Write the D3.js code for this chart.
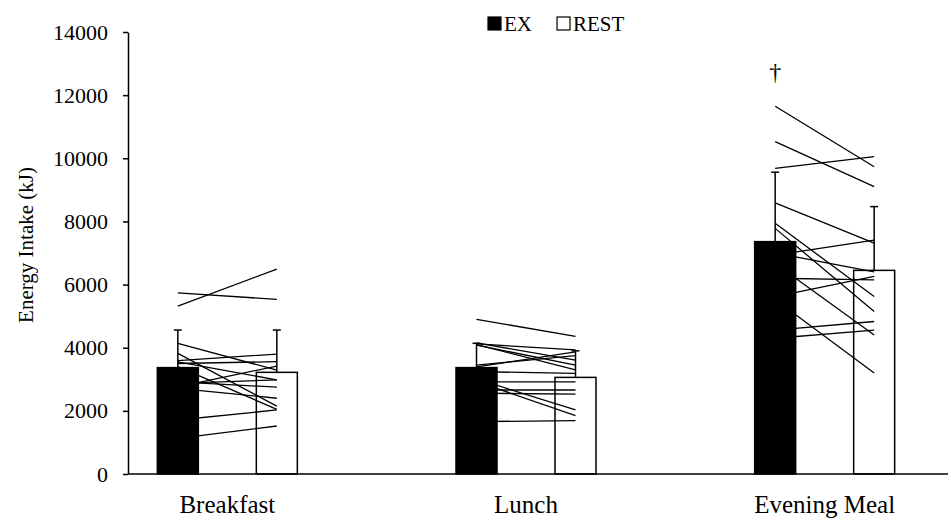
<!DOCTYPE html>
<html>
<head>
<meta charset="utf-8">
<script src="https://cdn.jsdelivr.net/npm/d3@7"></script>
<style>
  html, body { margin: 0; padding: 0; background: #fff; }
  svg { display: block; font-family: "Liberation Serif", "Times New Roman", serif; }
</style>
</head>
<body>
<script>
// Meal categories and group summaries (mean and SD, kJ)
const meals = ["Breakfast", "Lunch", "Evening Meal"];
const series = ["EX", "REST"];
const exMean = [3370, 3370, 7360];
const restMean = [3220, 3060, 6450];
const exSD = [1190, 770, 2200];
const restSD = [1340, 840, 2020];

// Individual participant intakes, paired EX -> REST
const breakfastEX   = [5740, 5320, 4140, 3820, 3590, 3500, 3550, 2870, 2920, 2710, 3400, 1710, 1130, 2760];
const breakfastREST = [5530, 6490, 3290, 2150, 3800, 3560, 2980, 2980, 2750, 2400, 2050, 2030, 1520, 3420];
const lunchEX       = [4900, 4150, 4080, 4120, 3390, 3450, 3240, 2920, 2660, 2560, 3010, 2930, 1660, 4100];
const lunchREST     = [4360, 3610, 3450, 3930, 3870, 3750, 3190, 2920, 2660, 2530, 2030, 1850, 1690, 3300];
const eveningEX     = [11650, 10530, 9680, 8590, 7940, 7780, 6930, 7000, 6200, 5620, 6670, 5530, 4560, 4300];
const eveningREST   = [9730, 9100, 10050, 7310, 5620, 5150, 7410, 6400, 6150, 6260, 4400, 3200, 4830, 4560];

const yTicks = [0, 2000, 4000, 6000, 8000, 10000, 12000, 14000];
const significance = ["", "", "\u2020"];

const individualEX = [breakfastEX, lunchEX, eveningEX];
const individualREST = [breakfastREST, lunchREST, eveningREST];

const W = 949, H = 519;
const svg = d3.select("body").append("svg").attr("width", W).attr("height", H);

const y = d3.scaleLinear().domain([0, 14000]).range([474, 32]);
const x = d3.scaleBand().domain(meals).range([78, 974]);
const offset = d3.scalePoint().domain(series).range([-49.5, 49.5]);
const barW = 41;
const cx = (meal, s) => x(meal) + x.bandwidth() / 2 + offset(s);

const fill = { EX: "#000", REST: "#fff" };

const bars = meals.flatMap((m, i) => [
  { meal: m, s: "EX", mean: exMean[i], sd: exSD[i] },
  { meal: m, s: "REST", mean: restMean[i], sd: restSD[i] }
]);

// bars
svg.append("g").selectAll("rect").data(bars).join("rect")
  .attr("x", d => cx(d.meal, d.s) - barW / 2)
  .attr("y", d => y(d.mean))
  .attr("width", barW)
  .attr("height", d => y(0) - y(d.mean))
  .attr("fill", d => fill[d.s])
  .attr("stroke", "#000")
  .attr("stroke-width", 1.5);

// paired individual lines
const pairs = meals.flatMap((m, i) =>
  individualEX[i].map((v, j) => ({ meal: m, ex: v, rest: individualREST[i][j] })));
svg.append("g").selectAll("line").data(pairs).join("line")
  .attr("x1", d => cx(d.meal, "EX"))
  .attr("y1", d => y(d.ex))
  .attr("x2", d => cx(d.meal, "REST"))
  .attr("y2", d => y(d.rest))
  .attr("stroke", "#000")
  .attr("stroke-width", 1.3);

// error bars (upper SD)
const eb = svg.append("g").attr("stroke", "#000").attr("stroke-width", 1.5);
eb.selectAll("line.v").data(bars).join("line").attr("class", "v")
  .attr("x1", d => cx(d.meal, d.s)).attr("x2", d => cx(d.meal, d.s))
  .attr("y1", d => y(d.mean)).attr("y2", d => y(d.mean + d.sd));
eb.selectAll("line.c").data(bars).join("line").attr("class", "c")
  .attr("x1", d => cx(d.meal, d.s) - 4).attr("x2", d => cx(d.meal, d.s) + 4)
  .attr("y1", d => y(d.mean + d.sd)).attr("y2", d => y(d.mean + d.sd));

// significance markers above the highest individual EX value
svg.append("g").selectAll("text").data(meals).join("text")
  .attr("x", m => cx(m, "EX"))
  .attr("y", (m, i) => y(d3.max(individualEX[i])) - 26)
  .attr("text-anchor", "middle")
  .attr("font-size", 24)
  .text((m, i) => significance[i]);

// y axis
const yAxis = svg.append("g").attr("transform", "translate(128,0)")
  .call(d3.axisLeft(y).tickValues(yTicks).tickSize(5).tickSizeOuter(0).tickPadding(15).tickFormat(d3.format("d")));
yAxis.select(".domain").attr("stroke-width", 1.5);
yAxis.selectAll(".tick line").attr("stroke-width", 1.5);
yAxis.selectAll("text").attr("font-size", 22).attr("font-family", "Liberation Serif, serif").attr("fill", "#000");

// x baseline and category labels
svg.append("line").attr("x1", 128).attr("x2", 948).attr("y1", y(0)).attr("y2", y(0))
  .attr("stroke", "#000").attr("stroke-width", 1.5);
const xAxis = svg.append("g").attr("transform", `translate(0,${y(0)})`)
  .call(d3.axisBottom(x).tickSize(0).tickPadding(21));
xAxis.select(".domain").remove();
xAxis.selectAll("text").attr("font-size", 25).attr("font-family", "Liberation Serif, serif").attr("fill", "#000");

// y title
svg.append("text")
  .attr("transform", "translate(33,245) rotate(-90)")
  .attr("text-anchor", "middle")
  .attr("font-size", 21)
  .text("Energy Intake (kJ)");

// legend
const legendX = [488, 557];
const lg = svg.append("g").selectAll("g").data(series).join("g")
  .attr("transform", (d, i) => `translate(${legendX[i]},17)`);
lg.append("rect").attr("width", 13).attr("height", 13)
  .attr("fill", d => fill[d]).attr("stroke", "#000").attr("stroke-width", 1.2);
lg.append("text").attr("x", 16).attr("y", 14).attr("font-size", 21).text(d => d);
</script>
</body>
</html>
